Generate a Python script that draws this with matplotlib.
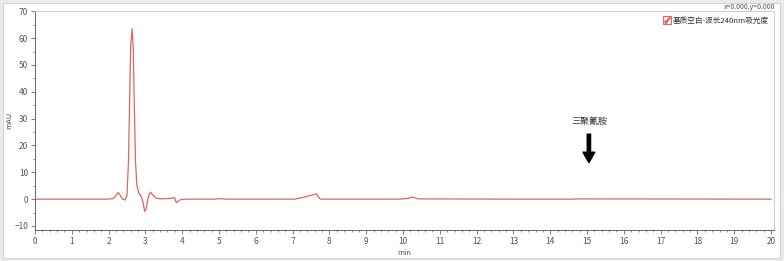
import matplotlib
matplotlib.use('Agg')
import matplotlib.pyplot as plt
from matplotlib.patches import Rectangle
from matplotlib.lines import Line2D
from matplotlib.legend_handler import HandlerTuple
from matplotlib.ticker import MultipleLocator

plt.rcParams['font.family'] = ['Noto Sans CJK SC', 'DejaVu Sans']

# chromatogram trace (min, mAU)
time_min = [0.0, 2.0, 2.12, 2.2, 2.26, 2.32, 2.38, 2.45, 2.5, 2.54, 2.57,
            2.6, 2.64, 2.67, 2.7, 2.73, 2.77, 2.82, 2.88, 2.93, 2.98, 3.02,
            3.06, 3.1, 3.14, 3.2, 3.3, 3.45, 3.7, 3.79, 3.84, 3.88, 3.95,
            4.1, 4.9, 5.0, 5.2, 7.05, 7.3, 7.55, 7.65, 7.7, 7.75, 9.9,
            10.15, 10.26, 10.4, 13.0, 14.6, 14.75, 20.0]
signal_mau = [0.0, 0.0, 0.2, 1.2, 2.5, 1.3, 0.0, -0.3, 1.5, 14, 36,
              57, 63.5, 56, 34, 14, 5, 2.2, 1.2, -0.8, -4.6, -3.6,
              -0.6, 1.8, 2.6, 1.5, 0.3, 0.1, 0.3, 0.6, -1.3, -0.9, -0.2,
              0.0, 0.0, 0.2, 0.0, 0.0, 0.7, 1.6, 2.0, 0.9, 0.0, 0.0,
              0.3, 0.8, 0.1, 0.0, 0.0, 0.1, 0.0]

series_label = '基质空白-波长240nm吸光度'
marker_text = '三聚氰胺'
arrow_x = 15.05
arrow_top = 24.2
arrow_tip = 13.6
label_y = 29.0
xticks = list(range(0, 21))
yticks = [-10, 0, 10, 20, 30, 40, 50, 60, 70]

red = '#e06464'
grey_txt = '#555555'

fig = plt.figure(figsize=(7.84, 2.61), dpi=100, facecolor='#ebebeb')
fig.patches.append(Rectangle((3 / 784, 3 / 261), 777 / 784, 255 / 261,
                             transform=fig.transFigure, facecolor='white',
                             edgecolor='#d4d4d4', lw=0.8, zorder=-5))

ax = fig.add_axes([35 / 784, 31 / 261, 739 / 784, 218.7 / 261])
ax.set_zorder(2)
ax.set_facecolor('white')
ax.plot(time_min, signal_mau, color=red, lw=0.9)

ax.set_xlim(0, 20.08)
ax.set_ylim(-11.5, 70)
ax.set_xticks(xticks)
ax.set_yticks(yticks)
ax.xaxis.set_minor_locator(MultipleLocator(0.2))
ax.yaxis.set_minor_locator(MultipleLocator(5))
ax.tick_params(which='major', length=3, width=0.6, color='#666666',
               labelsize=6, labelcolor=grey_txt, pad=2)
ax.tick_params(which='minor', length=1.5, width=0.5, color='#666666')
for side in ('top', 'right'):
    ax.spines[side].set_color('#d0d0d0')
    ax.spines[side].set_linewidth(0.7)
for side in ('left', 'bottom'):
    ax.spines[side].set_color('#666666')
    ax.spines[side].set_linewidth(0.7)

ax.set_xlabel('min', fontsize=5.5, color=grey_txt, labelpad=2)
ax.set_ylabel('mAU', fontsize=5.5, color=grey_txt, labelpad=1)

ax.annotate('', xy=(arrow_x, arrow_tip), xytext=(arrow_x, arrow_top),
            arrowprops=dict(facecolor='black', edgecolor='black', width=2.4,
                            headwidth=8.5, headlength=7.5, shrink=0))
ax.text(arrow_x, label_y, marker_text, ha='center', va='center',
        fontsize=6.5, color='#333333')

box = Line2D([], [], marker='s', markersize=6, mfc='white', mec=red,
             mew=0.8, ls='')
tick = Line2D([], [], marker=r'$\checkmark$', markersize=4, color=red, ls='')
ax.legend([(box, tick)], [series_label], handler_map={tuple: HandlerTuple(ndivide=1)},
          loc='upper right', frameon=False, fontsize=5.5, handlelength=1,
          handletextpad=0.3, borderaxespad=0.3,
          labelcolor='#333333')

fig.text(775 / 784, 1 - 7 / 261, 'x=0.000,y=0.000', ha='right', va='center',
         fontsize=5, color='#555555')

fig.savefig('out.png', dpi=100, facecolor=fig.get_facecolor())
